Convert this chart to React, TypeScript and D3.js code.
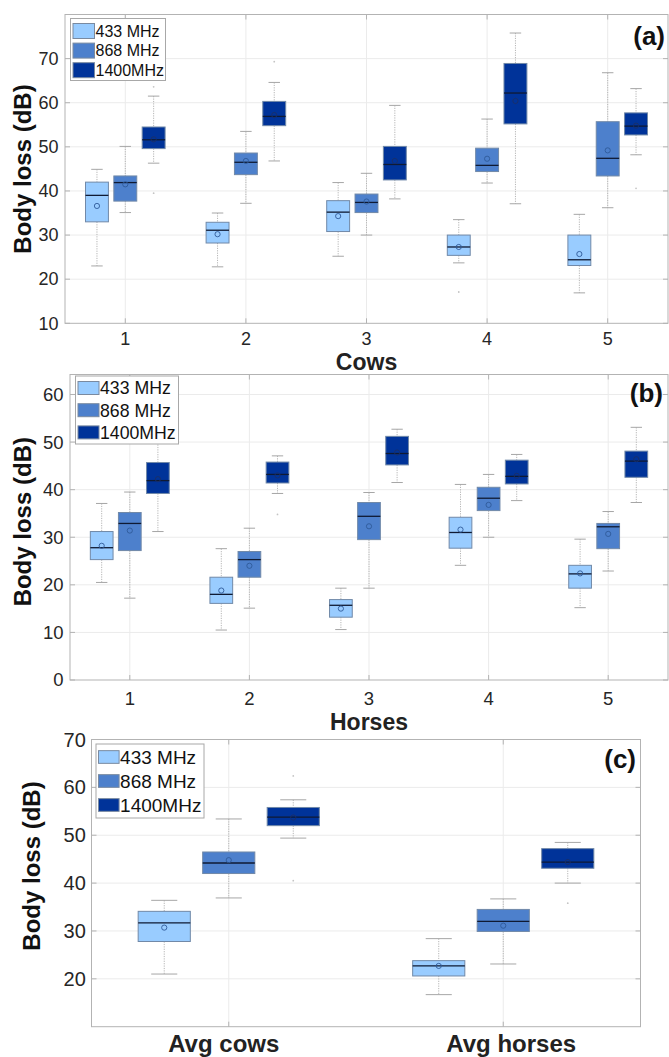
import React from "react";
import * as d3 from "d3";

// ---------- data ----------
// each stats row: [lowWhisker, q1, median, q3, highWhisker, mean]
const freqLabels = ["433 MHz", "868 MHz", "1400MHz"];
const freqColors = ["#99ccff", "#4d80cc", "#003399"];

const cowIds = ["1", "2", "3", "4", "5"];
const cows433 = [
  [23.0, 33.0, 39.0, 42.0, 44.9, 36.6],
  [22.8, 28.2, 31.1, 32.9, 35.0, 30.2],
  [25.2, 30.8, 35.2, 37.8, 41.9, 34.3],
  [23.7, 25.4, 27.3, 30.0, 33.5, 27.3],
  [16.9, 23.1, 24.4, 30.0, 34.7, 25.7],
];
const cows868 = [
  [35.1, 37.7, 41.9, 43.4, 50.1, 41.5],
  [37.2, 43.7, 46.5, 48.6, 53.5, 46.8],
  [30.0, 35.1, 37.4, 39.3, 44.0, 37.6],
  [41.8, 44.4, 45.8, 49.7, 56.3, 47.3],
  [36.2, 43.4, 47.4, 55.7, 66.8, 49.2],
];
const cows1400 = [
  [46.3, 49.6, 51.6, 54.5, 61.5, 51.7],
  [46.8, 54.8, 56.9, 60.3, 64.6, 57.2],
  [38.2, 42.5, 46.0, 50.1, 59.4, 46.8],
  [37.1, 55.2, 62.2, 68.9, 75.8, 60.4],
  [48.2, 52.7, 54.7, 57.7, 63.2, 54.8],
];
// [group index, series index, value]
const cowsOutliers = [
  [0, 2, 63.6],
  [0, 2, 39.5],
  [1, 2, 69.3],
  [3, 0, 17.1],
  [4, 2, 40.6],
];

const horseIds = ["1", "2", "3", "4", "5"];
const horses433 = [
  [20.5, 25.3, 27.8, 31.2, 37.1, 28.2],
  [10.5, 16.1, 18.0, 21.6, 27.6, 18.8],
  [10.6, 13.2, 15.7, 16.9, 19.3, 15.0],
  [24.1, 27.7, 31.0, 34.2, 41.1, 31.6],
  [15.2, 19.3, 22.3, 24.1, 29.6, 22.4],
];
const horses868 = [
  [17.2, 27.2, 32.9, 35.2, 39.5, 31.4],
  [15.1, 21.6, 25.3, 27.0, 31.9, 24.0],
  [19.3, 29.5, 34.4, 37.3, 39.4, 32.3],
  [30.0, 35.6, 38.2, 40.5, 43.2, 36.8],
  [22.9, 27.6, 32.2, 32.9, 35.4, 30.7],
];
const horses1400 = [
  [31.2, 39.2, 41.9, 45.7, 51.0, 42.2],
  [39.2, 41.4, 43.2, 45.8, 47.1, 43.0],
  [41.5, 45.2, 47.6, 51.2, 52.7, 47.8],
  [37.7, 41.2, 42.8, 46.2, 47.4, 42.9],
  [37.3, 42.6, 46.0, 48.1, 53.1, 46.4],
];
const horsesOutliers = [[1, 2, 34.8]];

const avgIds = ["Avg cows", "Avg horses"];
const avg433 = [
  [21.0, 27.8, 31.7, 34.1, 36.4, 30.7],
  [16.7, 20.6, 22.7, 23.8, 28.4, 22.7],
];
const avg868 = [
  [36.9, 42.0, 44.2, 46.5, 53.4, 44.8],
  [23.1, 29.9, 32.0, 34.5, 36.7, 31.1],
];
const avg1400 = [
  [49.4, 52.0, 53.8, 55.8, 57.4, 53.7],
  [40.0, 43.1, 44.4, 47.2, 48.5, 44.4],
];
const avgOutliers = [
  [0, 2, 62.4],
  [0, 2, 40.5],
  [1, 2, 35.8],
];

const ticksA = [10, 20, 30, 40, 50, 60, 70];
const ticksB = [0, 10, 20, 30, 40, 50, 60];
const ticksC = [20, 30, 40, 50, 60, 70];

// ---------- styling ----------
const FONT = "'Liberation Sans', Arial, Helvetica, sans-serif";
const TEXT = "#262626";
const AXIS = "#b3b3b3";
const GRID = "#ebebeb";

type PanelProps = {
  groups: string[];
  series: number[][][];
  outliers: number[][];
  yDomain: [number, number];
  yTicks: number[];
  gridYs: number[];
  L: any;
};

function Panel({ groups, series, outliers, yDomain, yTicks, gridYs, L }: PanelProps) {
  const n = groups.length;
  const x = d3.scaleLinear().domain([0.5, n + 0.5]).range([L.left, L.right]);
  const y = d3.scaleLinear().domain(yDomain).range([L.bottom, L.top]);
  const offsets = [-0.235, 0, 0.235];
  const bw = x(0.19) - x(0);
  const tl = 5;
  const xt = d3.range(1, n + 1);

  return (
    <g>
      {/* grid */}
      {gridYs.map((t) => (
        <line key={"gy" + t} x1={L.left} x2={L.right} y1={y(t)} y2={y(t)} stroke={GRID} strokeWidth={1} />
      ))}
      {xt.map((t) => (
        <line key={"gx" + t} x1={x(t)} x2={x(t)} y1={L.top} y2={L.bottom} stroke={GRID} strokeWidth={1} />
      ))}
      {/* outliers */}
      {outliers.map((o, k) => (
        <circle key={"o" + k} cx={x(o[0] + 1 + offsets[o[1]])} cy={y(o[2])} r={0.9} fill="#c4c4c4" />
      ))}
      {/* boxes */}
      {series.map((ser, s) =>
        ser.map((st, i) => {
          const cx = x(i + 1 + offsets[s]);
          const [lo, q1, med, q3, hi, mean] = st;
          return (
            <g key={`b${s}-${i}`}>
              <line x1={cx} x2={cx} y1={y(hi)} y2={y(q3)} stroke="#b5b5b5" strokeWidth={1} strokeDasharray="1.2,1.2" />
              <line x1={cx} x2={cx} y1={y(q1)} y2={y(lo)} stroke="#b5b5b5" strokeWidth={1} strokeDasharray="1.2,1.2" />
              <line x1={cx - bw / 4} x2={cx + bw / 4} y1={y(hi)} y2={y(hi)} stroke="#a6a6a6" strokeWidth={1} />
              <line x1={cx - bw / 4} x2={cx + bw / 4} y1={y(lo)} y2={y(lo)} stroke="#a6a6a6" strokeWidth={1} />
              <rect
                x={cx - bw / 2}
                y={y(q3)}
                width={bw}
                height={y(q1) - y(q3)}
                fill={freqColors[s]}
                stroke="#7189a8"
                strokeWidth={1}
              />
              <line x1={cx - bw / 2} x2={cx + bw / 2} y1={y(med)} y2={y(med)} stroke="#0f1a33" strokeWidth={1.3} />
              <circle cx={cx} cy={y(mean)} r={2.6} fill="none" stroke={s === 2 ? "#1b2f66" : "#2f5a9a"} strokeWidth={0.9} />
            </g>
          );
        })
      )}
      {/* axes box */}
      <rect x={L.left} y={L.top} width={L.right - L.left} height={L.bottom - L.top} fill="none" stroke={AXIS} strokeWidth={1} />
      {/* y ticks */}
      {yTicks.map((t) => (
        <g key={"yt" + t}>
          <line x1={L.left} x2={L.left + tl} y1={y(t)} y2={y(t)} stroke={AXIS} />
          <line x1={L.right} x2={L.right - tl} y1={y(t)} y2={y(t)} stroke={AXIS} />
          <text
            x={L.left - L.yTickGap}
            y={y(t)}
            dy="0.35em"
            textAnchor="end"
            fontFamily={FONT}
            fontSize={L.yTickSize}
            fill={TEXT}
          >
            {t}
          </text>
        </g>
      ))}
      {/* x ticks */}
      {xt.map((t, i) => (
        <g key={"xt" + t}>
          <line x1={x(t)} x2={x(t)} y1={L.bottom} y2={L.bottom - tl} stroke={AXIS} />
          <line x1={x(t)} x2={x(t)} y1={L.top} y2={L.top + tl} stroke={AXIS} />
          <text
            x={x(t) + (L.xLabelDx ? L.xLabelDx[i] : 0)}
            y={L.xTickBaseline}
            textAnchor="middle"
            fontFamily={FONT}
            fontSize={L.xTickSize}
            fontWeight={L.xTickBold ? "bold" : "normal"}
            fill={L.xTickBold ? "#222" : TEXT}
          >
            {groups[i]}
          </text>
        </g>
      ))}
      {/* x axis title */}
      {L.xTitle && (
        <text x={x((n + 1) / 2)} y={L.xTitleBaseline} textAnchor="middle" fontFamily={FONT} fontSize={23} fontWeight="bold" fill="#222">
          {L.xTitle}
        </text>
      )}
      {/* y axis title */}
      <text
        transform={`translate(${L.yTitleX},${L.yTitleY}) rotate(-90)`}
        textAnchor="middle"
        fontFamily={FONT}
        fontSize={24}
        fontWeight="bold"
        fill="#111"
      >
        Body loss (dB)
      </text>
      {/* panel tag */}
      <text x={L.tagX} y={L.tagY} textAnchor="end" fontFamily={FONT} fontSize={26} fontWeight="bold" fill="#111">
        {L.tag}
      </text>
      {/* legend */}
      <rect x={L.lg.x} y={L.lg.y} width={L.lg.w} height={L.lg.h} fill="#fff" stroke="#a8a8a8" strokeWidth={1} />
      {freqLabels.map((lab, k) => {
        const cy = L.lg.y + L.lg.first + k * L.lg.step;
        return (
          <g key={"lg" + k}>
            <rect
              x={L.lg.x + 2.5}
              y={cy - L.lg.sh / 2}
              width={L.lg.sw}
              height={L.lg.sh}
              fill={freqColors[k]}
              stroke="#7a8aa0"
              strokeWidth={1}
            />
            <text x={L.lg.x + 3.5 + L.lg.sw} y={cy} dy="0.36em" fontFamily={FONT} fontSize={L.lg.fs} fill="#111">
              {lab}
            </text>
          </g>
        );
      })}
    </g>
  );
}

const layoutA = {
  left: 65,
  right: 668,
  top: 14.5,
  bottom: 323.3,
  yTickGap: 6.5,
  yTickSize: 18,
  xTickSize: 18,
  xTickBaseline: 345,
  xTitle: "Cows",
  xTitleBaseline: 370,
  yTitleX: 31,
  yTitleY: 169,
  tag: "(a)",
  tagX: 665,
  tagY: 45,
  lg: { x: 70.5, y: 18.5, w: 95, h: 62, first: 12.5, step: 19.6, sw: 21.5, sh: 15, fs: 16 },
};

const layoutB = {
  left: 70,
  right: 668,
  top: 374.5,
  bottom: 680,
  yTickGap: 6.5,
  yTickSize: 18.5,
  xTickSize: 18.5,
  xTickBaseline: 704.5,
  xTitle: "Horses",
  xTitleBaseline: 729.5,
  yTitleX: 31,
  yTitleY: 521.7,
  tag: "(b)",
  tagX: 663,
  tagY: 402,
  lg: { x: 75.5, y: 376, w: 103, h: 68, first: 12, step: 22.2, sw: 21, sh: 13, fs: 17.7 },
};

const layoutC = {
  left: 91.5,
  right: 640.5,
  top: 739.5,
  bottom: 1026.7,
  yTickGap: 5.7,
  yTickSize: 20,
  xTickSize: 24,
  xTickBold: true,
  xLabelDx: [-5, 8],
  xTickBaseline: 1052,
  yTitleX: 40,
  yTitleY: 866,
  tag: "(c)",
  tagX: 636,
  tagY: 768,
  lg: { x: 96, y: 744, w: 108, h: 74, first: 13, step: 24, sw: 20.6, sh: 12.7, fs: 19 },
};

export default function App() {
  return (
    <svg
      width={669}
      height={1057}
      viewBox="0 0 669 1057"
      style={{ position: "absolute", left: 0, top: 0, background: "#fff" }}
    >
      <rect x={0} y={0} width={669} height={1057} fill="#fff" />
      <Panel
        groups={cowIds}
        series={[cows433, cows868, cows1400]}
        outliers={cowsOutliers}
        yDomain={[10, 80]}
        yTicks={ticksA}
        gridYs={ticksA.slice(1)}
        L={layoutA}
      />
      <Panel
        groups={horseIds}
        series={[horses433, horses868, horses1400]}
        outliers={horsesOutliers}
        yDomain={[0, 64.2]}
        yTicks={ticksB}
        gridYs={ticksB.slice(1)}
        L={layoutB}
      />
      <Panel
        groups={avgIds}
        series={[avg433, avg868, avg1400]}
        outliers={avgOutliers}
        yDomain={[10, 70]}
        yTicks={ticksC}
        gridYs={ticksC.slice(0, -1)}
        L={layoutC}
      />
    </svg>
  );
}
